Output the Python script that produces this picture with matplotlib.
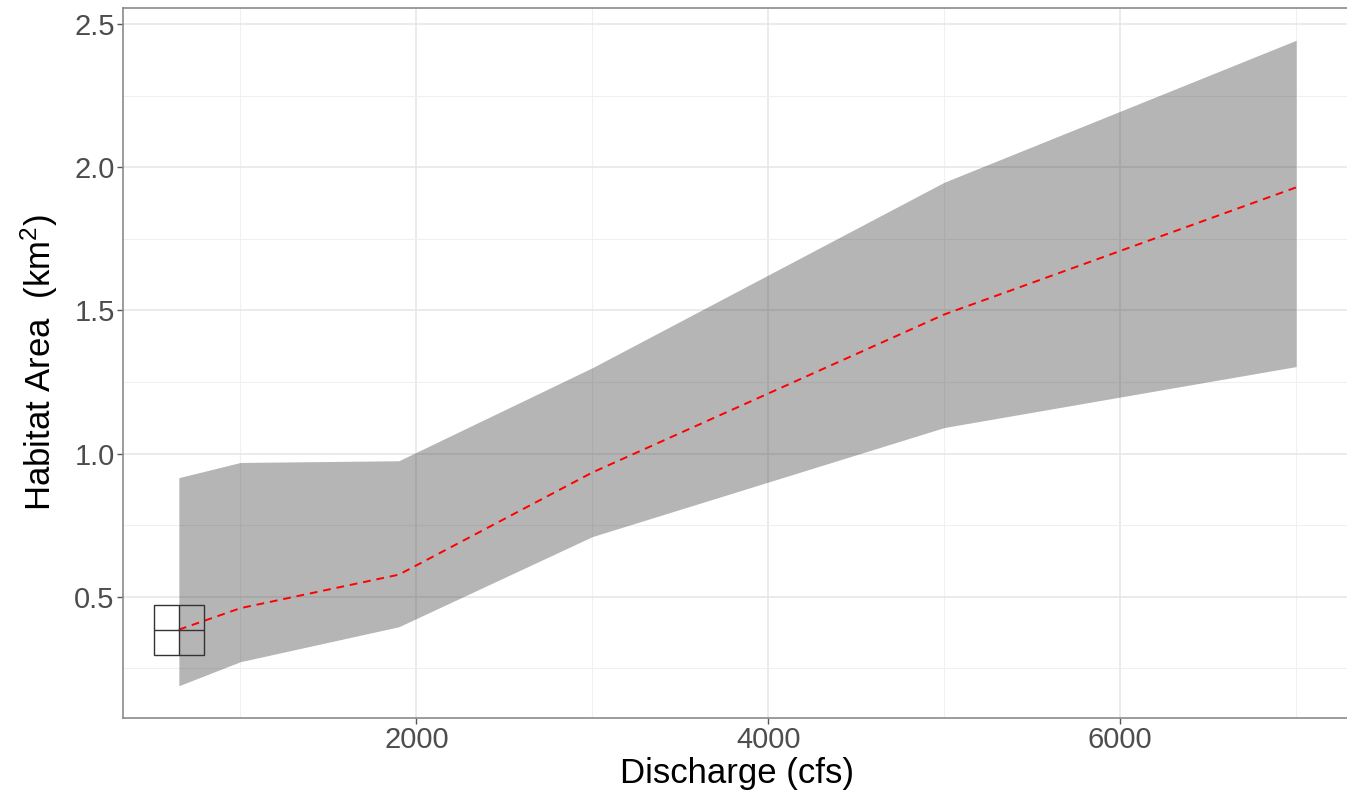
import matplotlib
matplotlib.use("Agg")
import matplotlib.pyplot as plt
from matplotlib.ticker import MultipleLocator

plt.rcParams['font.family'] = ['Liberation Sans', 'DejaVu Sans']
plt.rcParams['mathtext.default'] = 'regular'

# discharge (cfs) and habitat area (km^2)
discharge = [650, 1000, 1900, 3000, 5000, 7000]
area_mean = [0.385, 0.46, 0.577, 0.934, 1.486, 1.93]
area_low = [0.189, 0.273, 0.395, 0.71, 1.091, 1.304]
area_high = [0.916, 0.969, 0.975, 1.30, 1.948, 2.444]

fig = plt.figure(figsize=(13.47, 7.96), dpi=100)
ax = fig.add_axes([123 / 1347, 1 - 718 / 796, 1229 / 1347, 710 / 796])

ax.fill_between(discharge, area_low, area_high, color="#333333", alpha=0.36,
                linewidth=0, zorder=2)
ax.plot(discharge, area_mean, color="red", linewidth=1.4, dashes=(4, 3), zorder=3)

# box + cross around the first point
ax.plot(discharge[0], area_mean[0], marker="s", markersize=36.5, mfc="none",
        mec="#333333", mew=1.0, zorder=4)
ax.plot(discharge[0], area_mean[0], marker="+", markersize=36.5,
        mec="#333333", mew=1.0, zorder=4)

span = max(discharge) - min(discharge)
ax.set_xlim(min(discharge) - 0.05 * span, max(discharge) + 0.05 * span)
yspan = max(area_high) - min(area_low)
ax.set_ylim(min(area_low) - 0.05 * yspan, max(area_high) + 0.05 * yspan)

ax.xaxis.set_major_locator(MultipleLocator(2000))
ax.xaxis.set_minor_locator(MultipleLocator(1000))
ax.yaxis.set_major_locator(MultipleLocator(0.5))
ax.yaxis.set_minor_locator(MultipleLocator(0.25))
ax.set_yticks([0.5, 1.0, 1.5, 2.0, 2.5])

ax.set_axisbelow(True)
ax.grid(which="major", color="#e6e6e6", linewidth=1.1)
ax.grid(which="minor", color="#f0f0f0", linewidth=0.8)

for s in ax.spines.values():
    s.set_color("#8a8a8a")
    s.set_linewidth(1.2)

ax.tick_params(which="major", length=4, width=1, color="#555555",
               labelsize=21, labelcolor="#4d4d4d", pad=2)
ax.tick_params(which="minor", length=0)

ax.set_xlabel("Discharge (cfs)", fontsize=25, color="black", labelpad=2)
ax.set_ylabel("Habitat Area  (km$^2$)", fontsize=25, color="black", labelpad=10)

fig.savefig("out.png", dpi=100)
